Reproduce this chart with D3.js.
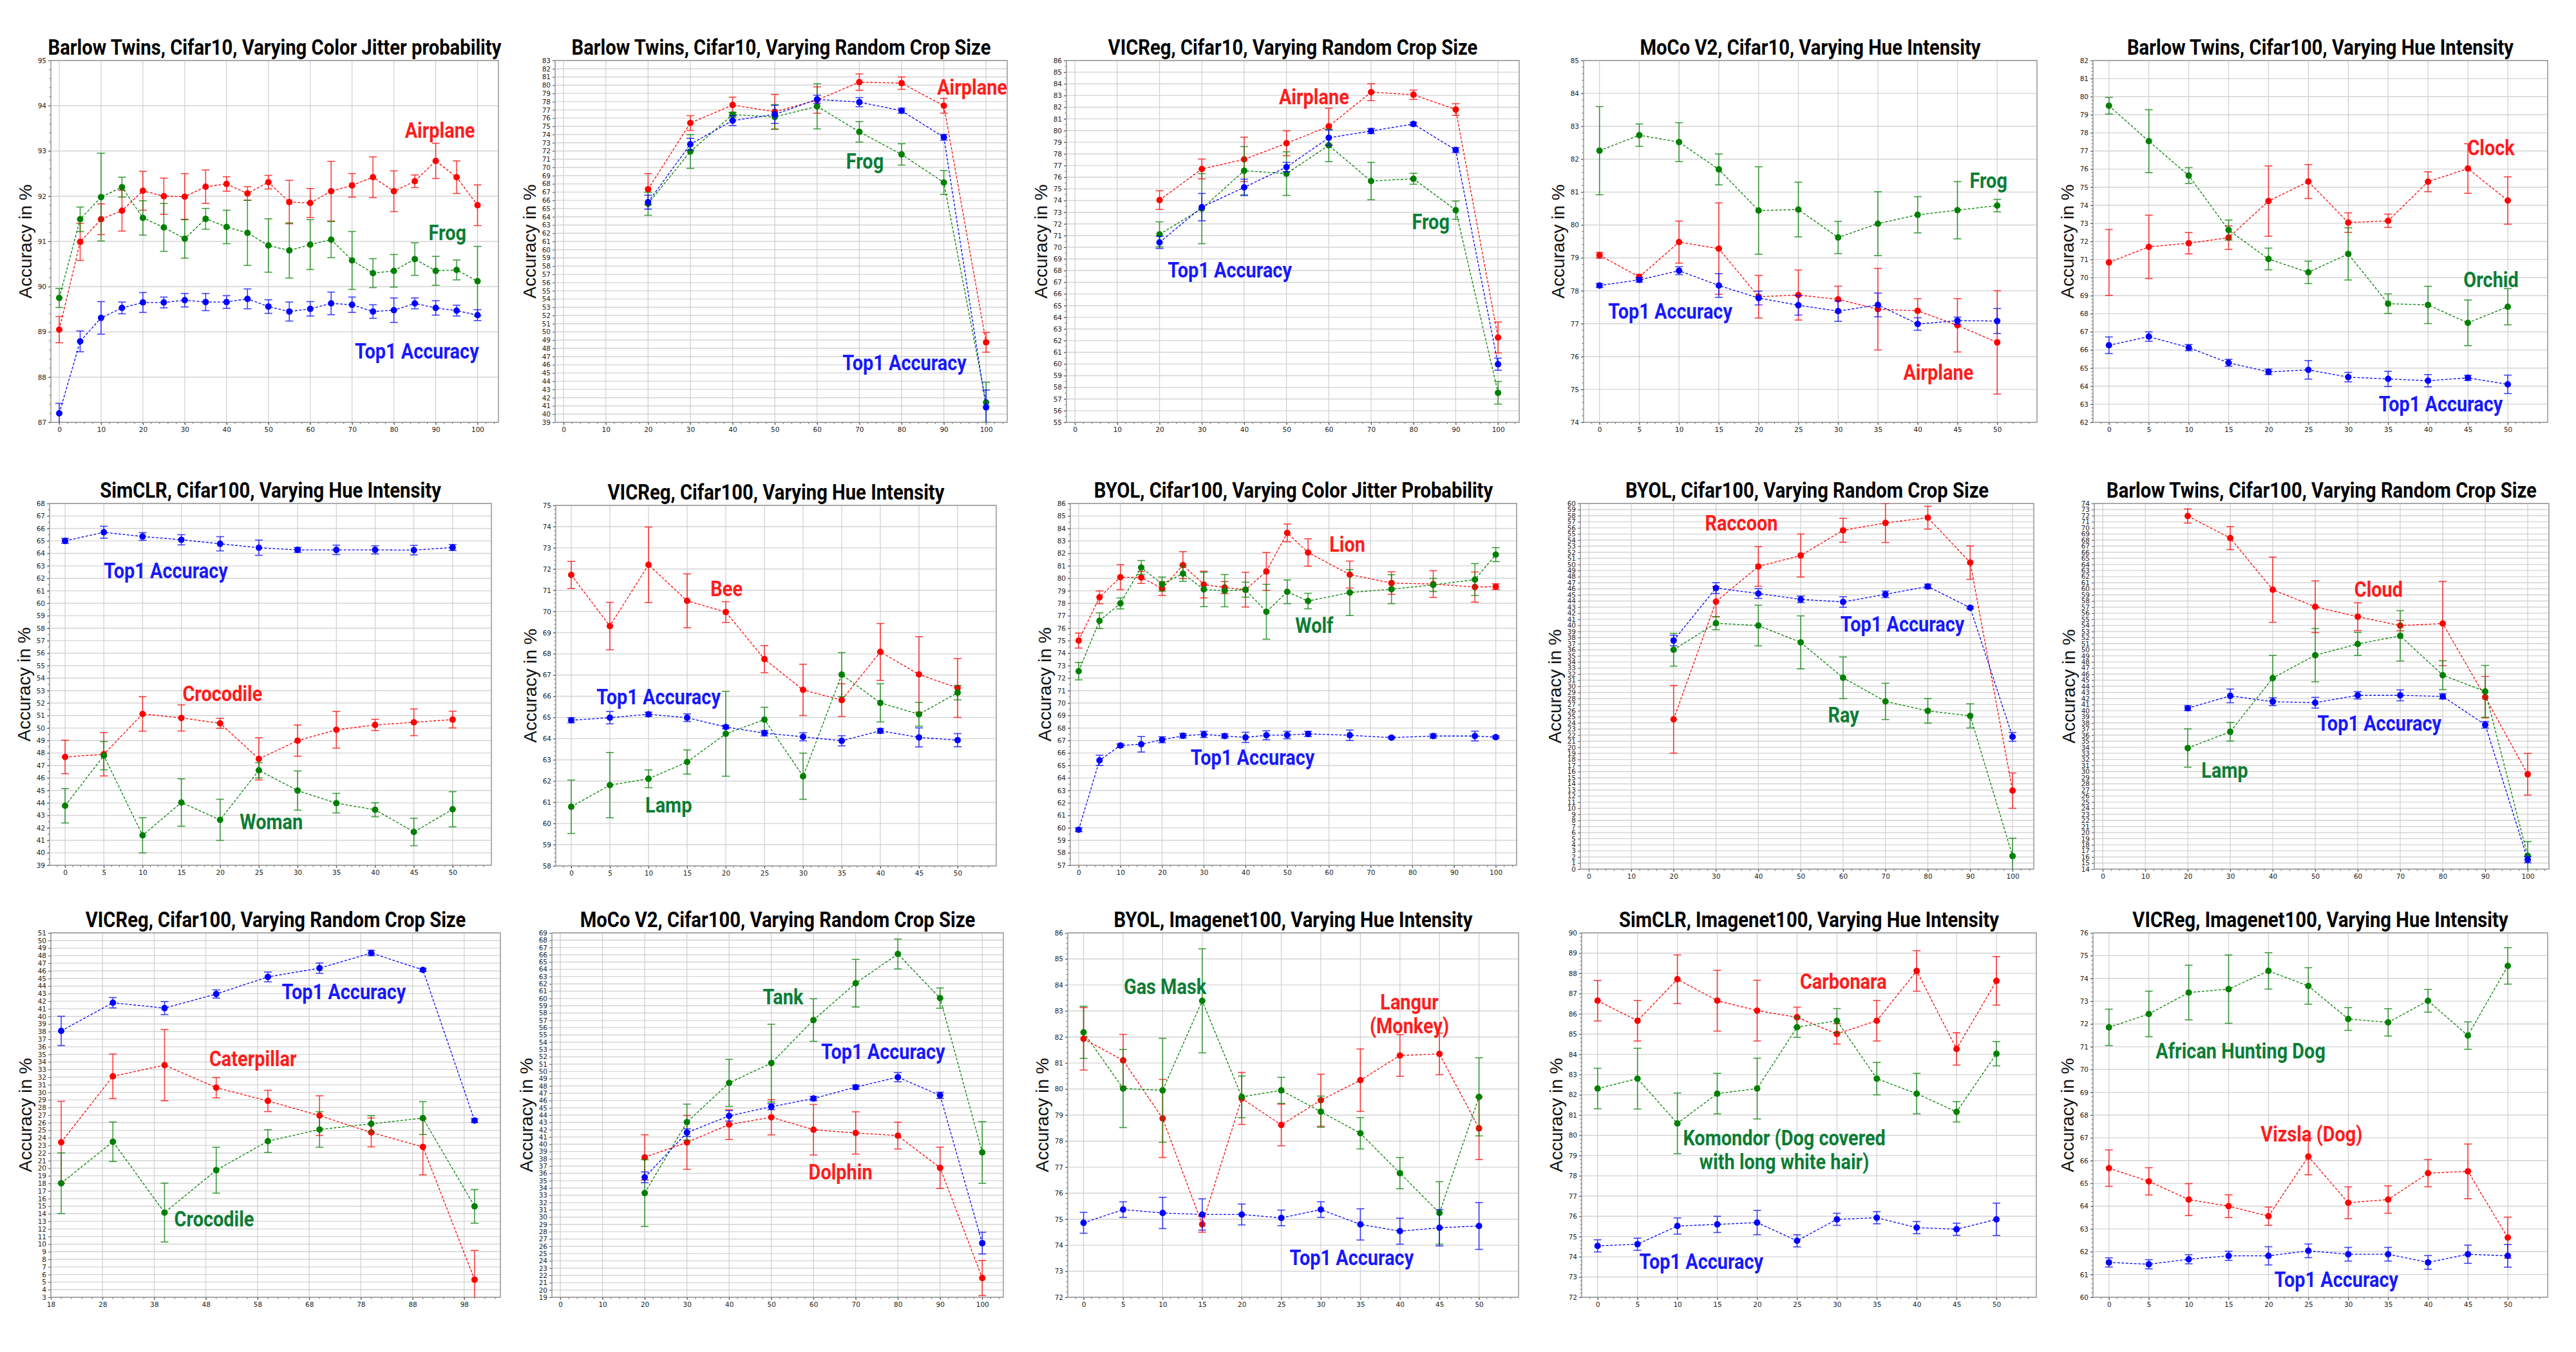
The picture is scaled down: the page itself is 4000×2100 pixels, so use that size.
<!DOCTYPE html>
<html>
<head>
<meta charset="utf-8">
<script src="https://cdn.jsdelivr.net/npm/d3@7"></script>
<style>
  body { margin: 0; background: #fff; }
</style>
</head>
<body>
<script>
// ---- titles and tick labels ----
var titles = [
  'Barlow Twins, Cifar10, Varying Color Jitter probability',
  'Barlow Twins, Cifar10, Varying Random Crop Size',
  'VICReg, Cifar10, Varying Random Crop Size',
  'MoCo V2, Cifar10, Varying Hue Intensity',
  'Barlow Twins, Cifar100, Varying Hue Intensity',
  'SimCLR, Cifar100, Varying Hue Intensity',
  'VICReg, Cifar100, Varying Hue Intensity',
  'BYOL, Cifar100, Varying Color Jitter Probability',
  'BYOL, Cifar100, Varying Random Crop Size',
  'Barlow Twins, Cifar100, Varying Random Crop Size',
  'VICReg, Cifar100, Varying Random Crop Size',
  'MoCo V2, Cifar100, Varying Random Crop Size',
  'BYOL, Imagenet100, Varying Hue Intensity',
  'SimCLR, Imagenet100, Varying Hue Intensity',
  'VICReg, Imagenet100, Varying Hue Intensity'
];

var ticks100 = [0, 10, 20, 30, 40, 50, 60, 70, 80, 90, 100];
var ticks50 = [0, 5, 10, 15, 20, 25, 30, 35, 40, 45, 50];
var ticksOdd = [18, 28, 38, 48, 58, 68, 78, 88, 98];

// ---- x values ----
var jitterX = [0, 5, 10, 15, 20, 25, 30, 35, 40, 45, 50, 55, 60, 65, 70, 75, 80, 85, 90, 95, 100];
var cropX = [20, 30, 40, 50, 60, 70, 80, 90, 100];
var hueX = [0, 5, 10, 15, 20, 25, 30, 35, 40, 45, 50];
var byolJitterX = [0, 5, 10, 15, 20, 25, 30, 35, 40, 45, 50, 55, 65, 75, 85, 95, 100];

// ---- series: [mean, std] ----
var p1Top1 = [[87.20,.22],[88.79,.23],[89.31,.36],[89.53,.13],[89.65,.22],[89.65,.12],[89.70,.15],[89.66,.19],[89.66,.14],[89.73,.22],[89.56,.15],[89.45,.21],[89.51,.16],[89.63,.25],[89.60,.17],[89.45,.15],[89.48,.27],[89.63,.12],[89.53,.16],[89.47,.12],[89.37,.12]];
var p1Airplane = [[89.05,.29],[90.99,.41],[91.49,.34],[91.68,.45],[92.12,.43],[92.00,.40],[91.99,.51],[92.21,.37],[92.27,.16],[92.06,.15],[92.31,.15],[91.87,.48],[91.85,.32],[92.11,.66],[92.24,.26],[92.42,.45],[92.11,.45],[92.33,.14],[92.78,.39],[92.42,.36],[91.80,.45]];
var p1Frog = [[89.75,.21],[91.49,.27],[91.98,.97],[92.20,.22],[91.52,.38],[91.31,.53],[91.06,.43],[91.50,.23],[91.32,.37],[91.19,.72],[90.91,.59],[90.80,.61],[90.93,.55],[91.04,.40],[90.58,.64],[90.30,.32],[90.35,.36],[90.61,.36],[90.35,.32],[90.37,.22],[90.12,.77]];

var p2Top1 = [[65.77,.85],[72.82,.72],[75.69,.6],[76.45,1.1],[78.28,.5],[77.94,.55],[76.90,.3],[73.67,.35],[40.83,2.1]];
var p2Airplane = [[67.35,1.9],[75.40,.9],[77.59,.95],[76.77,2.1],[78.19,1.6],[80.37,1.0],[80.25,.75],[77.50,.9],[48.73,1.2]];
var p2Frog = [[65.58,1.4],[71.93,2.05],[76.42,.3],[76.14,1.5],[77.43,2.75],[74.33,1.25],[71.58,1.3],[68.17,1.45],[41.43,2.45]];

var p3Top1 = [[70.42,.52],[73.44,1.17],[75.13,.7],[76.87,.4],[79.38,.67],[79.96,.22],[80.56,.15],[78.33,.2],[59.98,.52]];
var p3Airplane = [[74.04,.8],[76.71,.85],[77.53,1.9],[78.91,1.07],[80.36,1.55],[83.29,.73],[83.07,.4],[81.80,.5],[62.27,1.33]];
var p3Frog = [[71.11,1.07],[73.31,3.0],[76.56,2.07],[76.31,1.87],[78.73,1.39],[75.67,1.6],[75.87,.47],[73.18,.78],[57.53,.97]];

var p4Top1 = [[78.16,.06],[78.33,.07],[78.61,.12],[78.16,.36],[77.78,.21],[77.56,.3],[77.38,.31],[77.57,.36],[76.99,.19],[77.09,.11],[77.08,.38]];
var p4Airplane = [[79.08,.09],[78.42,.08],[79.48,.64],[79.28,1.39],[77.82,.65],[77.87,.76],[77.74,.4],[77.44,1.24],[77.39,.37],[76.95,.81],[76.43,1.57]];
var p4Frog = [[82.26,1.34],[82.73,.34],[82.52,.59],[81.69,.47],[80.44,1.33],[80.47,.83],[79.62,.49],[80.04,.97],[80.31,.55],[80.45,.87],[80.59,.19]];

var p5Top1 = [[66.26,.46],[66.74,.26],[66.13,.17],[65.29,.19],[64.79,.15],[64.90,.51],[64.50,.26],[64.40,.42],[64.30,.34],[64.46,.14],[64.10,.51]];
var p5Clock = [[70.84,1.82],[71.70,1.75],[71.90,.59],[72.21,.65],[74.23,1.94],[75.31,.94],[73.04,.54],[73.14,.37],[75.30,.55],[76.03,1.37],[74.26,1.31]];
var p5Orchid = [[79.50,.46],[77.54,1.74],[75.64,.44],[72.63,.55],[71.03,.6],[70.29,.62],[71.31,1.44],[68.56,.54],[68.49,1.03],[67.50,1.26],[68.39,1.0]];

var p6Top1 = [[65.00,.2],[65.69,.48],[65.35,.31],[65.09,.41],[64.77,.57],[64.45,.61],[64.28,.19],[64.28,.38],[64.28,.33],[64.26,.38],[64.47,.24]];
var p6Crocodile = [[47.68,1.34],[47.90,1.74],[51.13,1.38],[50.81,1.05],[50.38,.4],[47.53,1.69],[48.99,1.25],[49.86,1.47],[50.25,.45],[50.46,1.07],[50.68,.67]];
var p6Woman = [[43.77,1.38],[47.79,1.13],[41.40,1.41],[44.03,1.9],[42.64,1.65],[46.61,.61],[44.99,1.57],[43.98,.78],[43.45,.56],[41.67,1.1],[43.49,1.41]];

var p7Top1 = [[64.87,.12],[64.99,.29],[65.15,.1],[64.99,.18],[64.55,.08],[64.26,.13],[64.09,.19],[63.90,.24],[64.37,.11],[64.06,.45],[63.93,.31]];
var p7Bee = [[71.72,.64],[69.31,1.12],[72.20,1.78],[70.50,1.27],[69.97,.49],[67.75,.64],[66.30,1.21],[65.82,.77],[68.09,1.34],[67.03,1.78],[66.39,1.39]];
var p7Lamp = [[60.79,1.26],[61.81,1.54],[62.11,.42],[62.90,.57],[64.23,2.0],[64.90,.58],[62.23,1.09],[67.02,1.04],[65.69,.9],[65.15,.56],[66.17,.34]];

var p8Top1 = [[59.85,.15],[65.41,.41],[66.60,.13],[66.70,.62],[67.06,.24],[67.38,.18],[67.49,.25],[67.36,.17],[67.25,.41],[67.42,.36],[67.44,.3],[67.53,.21],[67.42,.42],[67.23,.08],[67.36,.17],[67.36,.39],[67.27,.1]];
var p8Lion = [[75.01,.6],[78.48,.51],[80.09,1.0],[80.07,.48],[79.18,.55],[81.06,1.08],[79.50,1.07],[79.26,.48],[79.09,1.39],[80.55,1.52],[83.64,.71],[82.07,1.1],[80.30,1.08],[79.62,.9],[79.54,1.07],[79.30,1.21],[79.33,.23]];
var p8Wolf = [[72.56,.7],[76.60,.63],[77.99,.44],[80.87,.56],[79.54,.56],[80.38,.62],[79.11,1.38],[79.01,1.29],[79.09,.6],[77.32,2.2],[78.92,.95],[78.18,.62],[78.86,1.84],[79.13,1.16],[79.47,.52],[79.90,1.28],[81.90,.56]];

var p9Top1 = [[37.51,.86],[46.12,.88],[45.22,.8],[44.27,.54],[43.84,.86],[45.09,.54],[46.38,.37],[42.89,.2],[21.70,.73]];
var p9Raccoon = [[24.59,5.55],[43.89,2.5],[49.66,3.25],[51.46,3.53],[55.60,1.96],[56.80,3.2],[57.67,1.87],[50.30,2.74],[12.88,2.9]];
var p9Ray = [[36.00,2.69],[40.35,1.07],[39.97,3.33],[37.21,4.35],[31.40,3.42],[27.52,2.97],[25.97,2.02],[25.15,1.98],[2.15,2.93]];

var p10Top1 = [[40.41,.39],[42.43,1.12],[41.48,.65],[41.31,.88],[42.52,.6],[42.52,.9],[42.34,.43],[37.69,.54],[15.55,.5]];
var p10Cloud = [[71.94,1.16],[68.32,1.89],[59.85,5.35],[57.05,4.24],[55.42,2.28],[53.96,.84],[54.30,6.92],[42.22,3.4],[29.57,3.42]];
var p10Lamp = [[33.87,3.14],[36.54,1.53],[45.35,3.72],[49.10,4.37],[50.95,1.89],[52.28,4.13],[45.83,2.37],[43.16,4.26],[16.19,2.32]];

var p11Top1 = [[38.09,1.93],[41.80,.68],[41.09,.86],[42.95,.54],[45.20,.64],[46.35,.68],[48.35,.36],[46.13,.2],[26.28,.25]];
var p11Caterpillar = [[23.42,5.4],[32.11,2.93],[33.58,4.69],[30.61,1.34],[28.86,1.4],[26.93,2.61],[24.71,1.9],[22.81,3.68],[5.32,3.85]];
var p11Crocodile = [[18.02,4.0],[23.49,2.61],[14.16,3.88],[19.74,3.02],[23.57,1.5],[25.10,2.34],[25.85,1.07],[26.60,2.16],[14.98,2.22]];

var p12Top1 = [[35.46,.74],[41.59,.52],[43.89,.71],[45.15,.41],[46.27,.3],[47.83,.28],[49.20,.63],[46.71,.43],[26.43,1.49]];
var p12Tank = [[33.30,4.57],[43.03,2.47],[48.42,3.23],[51.13,5.33],[57.04,2.92],[62.09,3.27],[66.10,2.05],[60.05,1.39],[38.87,4.23]];
var p12Dolphin = [[38.20,3.1],[40.25,3.7],[42.70,2.04],[43.70,2.42],[41.99,3.47],[41.55,2.9],[41.18,1.84],[36.76,2.83],[21.64,2.41]];

var p13Top1 = [[74.86,.4],[75.37,.3],[75.24,.6],[75.18,.6],[75.18,.4],[75.05,.3],[75.37,.3],[74.80,.6],[74.54,.5],[74.67,.7],[74.74,.9]];
var p13Langur = [[81.93,1.2],[81.10,1.0],[78.87,1.5],[74.80,.3],[79.64,1.0],[78.62,.8],[79.57,1.0],[80.34,1.2],[81.29,.8],[81.35,.8],[78.49,1.2]];
var p13GasMask = [[82.18,1.0],[80.02,1.5],[79.95,2.0],[83.39,2.0],[79.70,.8],[79.95,.5],[79.13,.6],[78.30,.6],[76.77,.6],[75.24,1.2],[79.70,1.5]];

var p14Top1 = [[74.54,.3],[74.62,.3],[75.52,.4],[75.60,.4],[75.69,.6],[74.79,.3],[75.85,.3],[75.93,.3],[75.44,.3],[75.36,.3],[75.85,.8]];
var p14Carbonara = [[86.65,1.0],[85.66,1.0],[87.71,1.2],[86.65,1.5],[86.16,1.5],[85.83,.5],[85.01,.5],[85.66,1.0],[88.12,1.0],[84.27,.8],[87.63,1.2]];
var p14Komondor = [[82.31,1.0],[82.80,1.5],[80.59,1.5],[82.06,1.0],[82.31,1.5],[85.34,.5],[85.66,.6],[82.80,.8],[82.06,1.0],[81.16,.5],[84.03,.6]];

var p15Top1 = [[61.53,.2],[61.45,.2],[61.67,.2],[61.82,.2],[61.82,.4],[62.04,.3],[61.89,.3],[61.89,.3],[61.53,.3],[61.89,.4],[61.82,.5]];
var p15Vizsla = [[65.67,.8],[65.09,.6],[64.29,.7],[64.00,.5],[63.56,.4],[66.18,.8],[64.15,.7],[64.29,.6],[65.45,.6],[65.53,1.2],[62.62,.9]];
var p15HuntingDog = [[71.85,.8],[72.44,1.0],[73.38,1.2],[73.53,1.5],[74.33,.8],[73.67,.8],[72.22,.5],[72.07,.6],[73.02,.5],[71.49,.6],[74.55,.8]];

// ---- y ranges of each panel ----
var yRanges = [[87,95],[39,83],[55,86],[74,85],[62,82],[39,68],[58,75],[57,86],[0,60],[14,74],[3,51],[19,69],[72,86],[72,90],[60,76]];

// ---- layout ----
var lineColor = {red: '#ff0000', green: '#008000', blue: '#0000ff'};
var textColor = {red: '#ff1c1c', green: '#0c7d34', blue: '#1818ff'};

var panels = [
  {box: [79, 94, 695, 562], xd: [-2, 105], xt: ticks100, xs: jitterX,
   series: [[p1Airplane, 'red'], [p1Frog, 'green'], [p1Top1, 'blue']],
   notes: [[['Airplane'], 'red', 91, 93.47], [['Frog'], 'green', 92.8, 91.2], [['Top1 Accuracy'], 'blue', 85.5, 88.58]]},
  {box: [862, 94, 702, 562], xd: [-2, 105], xt: ticks100, xs: cropX,
   series: [[p2Airplane, 'red'], [p2Frog, 'green'], [p2Top1, 'blue']],
   notes: [[['Airplane'], 'red', 96.7, 79.8], [['Frog'], 'green', 71.3, 70.8], [['Top1 Accuracy'], 'blue', 80.7, 46.3]]},
  {box: [1656, 94, 703, 562], xd: [-2, 105], xt: ticks100, xs: cropX,
   series: [[p3Airplane, 'red'], [p3Frog, 'green'], [p3Top1, 'blue']],
   notes: [[['Airplane'], 'red', 56.5, 82.9], [['Frog'], 'green', 84.1, 72.2], [['Top1 Accuracy'], 'blue', 36.6, 68.1]]},
  {box: [2459, 94, 704, 562], xd: [-2, 55], xt: ticks50, xs: hueX,
   series: [[p4Airplane, 'red'], [p4Frog, 'green'], [p4Top1, 'blue']],
   notes: [[['Frog'], 'green', 48.9, 81.37], [['Top1 Accuracy'], 'blue', 8.9, 77.39], [['Airplane'], 'red', 42.6, 75.54]]},
  {box: [3250, 94, 706, 562], xd: [-2, 55], xt: ticks50, xs: hueX,
   series: [[p5Clock, 'red'], [p5Orchid, 'green'], [p5Top1, 'blue']],
   notes: [[['Clock'], 'red', 47.9, 77.2], [['Orchid'], 'green', 47.9, 69.9], [['Top1 Accuracy'], 'blue', 41.6, 63.04]]},

  {box: [77, 782, 686, 562], xd: [-2, 55], xt: ticks50, xs: hueX,
   series: [[p6Crocodile, 'red'], [p6Woman, 'green'], [p6Top1, 'blue']],
   notes: [[['Top1 Accuracy'], 'blue', 13.0, 62.65], [['Crocodile'], 'red', 20.3, 52.8], [['Woman'], 'green', 26.6, 42.5]]},
  {box: [863, 785, 684, 560], xd: [-2, 55], xt: ticks50, xs: hueX,
   series: [[p7Bee, 'red'], [p7Lamp, 'green'], [p7Top1, 'blue']],
   notes: [[['Bee'], 'red', 20.1, 71.1], [['Top1 Accuracy'], 'blue', 11.3, 66.0], [['Lamp'], 'green', 12.6, 60.9]]},
  {box: [1662, 782, 693, 562], xd: [-2, 105], xt: ticks100, xs: byolJitterX,
   series: [[p8Lion, 'red'], [p8Wolf, 'green'], [p8Top1, 'blue']],
   notes: [[['Lion'], 'red', 64.4, 82.75], [['Wolf'], 'green', 56.5, 76.25], [['Top1 Accuracy'], 'blue', 41.7, 65.7]]},
  {box: [2454, 782, 704, 568], xd: [-2, 105], xt: ticks100, xs: cropX,
   series: [[p9Raccoon, 'red'], [p9Ray, 'green'], [p9Top1, 'blue']],
   notes: [[['Raccoon'], 'red', 36.0, 56.85], [['Top1 Accuracy'], 'blue', 74.0, 40.3], [['Ray'], 'green', 60.1, 25.4]]},
  {box: [3252, 782, 706, 568], xd: [-2, 105], xt: ticks100, xs: cropX,
   series: [[p10Cloud, 'red'], [p10Lamp, 'green'], [p10Top1, 'blue']],
   notes: [[['Cloud'], 'red', 64.9, 59.98], [['Top1 Accuracy'], 'blue', 65.1, 38.0], [['Lamp'], 'green', 28.7, 30.3]]},

  {box: [79, 1449, 698, 566], xd: [18, 105], xt: ticksOdd, xs: cropX,
   series: [[p11Caterpillar, 'red'], [p11Crocodile, 'green'], [p11Top1, 'blue']],
   notes: [[['Top1 Accuracy'], 'blue', 74.7, 43.27], [['Caterpillar'], 'red', 57.1, 34.47], [['Crocodile'], 'green', 49.6, 13.4]]},
  {box: [857, 1449, 701, 566], xd: [-2, 105], xt: ticks100, xs: cropX,
   series: [[p12Dolphin, 'red'], [p12Tank, 'green'], [p12Top1, 'blue']],
   notes: [[['Tank'], 'green', 52.8, 60.27], [['Top1 Accuracy'], 'blue', 76.5, 52.73], [['Dolphin'], 'red', 66.4, 36.27]]},
  {box: [1658, 1449, 700, 566], xd: [-2, 55], xt: ticks50, xs: hueX,
   series: [[p13Langur, 'red'], [p13GasMask, 'green'], [p13Top1, 'blue']],
   notes: [[['Gas Mask'], 'green', 10.3, 83.96], [['Langur', '(Monkey)'], 'red', 41.2, 82.9], [['Top1 Accuracy'], 'blue', 33.9, 73.53]]},
  {box: [2456, 1449, 706, 566], xd: [-2, 55], xt: ticks50, xs: hueX,
   series: [[p14Carbonara, 'red'], [p14Komondor, 'green'], [p14Top1, 'blue']],
   notes: [[['Carbonara'], 'red', 30.8, 87.63], [['Komondor (Dog covered', 'with long white hair)'], 'green', 23.4, 79.3], [['Top1 Accuracy'], 'blue', 13.0, 73.8]]},
  {box: [3250, 1449, 706, 566], xd: [-2, 55], xt: ticks50, xs: hueX,
   series: [[p15Vizsla, 'red'], [p15HuntingDog, 'green'], [p15Top1, 'blue']],
   notes: [[['African Hunting Dog'], 'green', 16.5, 70.84], [['Vizsla (Dog)'], 'red', 25.4, 67.2], [['Top1 Accuracy'], 'blue', 28.5, 60.8]]}
];

var svg = d3.select('body')
  .append('svg')
  .attr('width', 4000)
  .attr('height', 2100);

svg.append('rect').attr('width', 4000).attr('height', 2100).attr('fill', '#fff');

var boldFont = 'Roboto, "Noto Sans", sans-serif';

// condensed bold text, centred on (cx, cy); lines is a list of strings
function condensed(parent, lines, cx, cy, size, squeeze, color) {
  var g = parent.append('g')
    .attr('transform', 'translate(' + cx + ',' + cy + ') scale(' + squeeze + ',1)');
  var lh = size * 1.1;
  var t = g.append('text')
    .attr('text-anchor', 'middle')
    .attr('font-family', boldFont)
    .attr('font-weight', 700)
    .attr('font-size', size)
    .attr('fill', color);
  lines.forEach(function(s, k) {
    t.append('tspan')
      .attr('x', 0)
      .attr('y', (k - (lines.length - 1) / 2) * lh + size * 0.36)
      .text(s);
  });
  return g;
}

panels.forEach(function(p, i) {
  var left = p.box[0], top = p.box[1], w = p.box[2], h = p.box[3];
  var yd = yRanges[i];
  var x = d3.scaleLinear().domain(p.xd).range([0, w]);
  var y = d3.scaleLinear().domain(yd).range([h, 0]);

  var g = svg.append('g').attr('transform', 'translate(' + left + ',' + top + ')');

  g.append('clipPath').attr('id', 'clip' + i)
    .append('rect').attr('x', 0).attr('y', 0).attr('width', w).attr('height', h);
  g.append('clipPath').attr('id', 'lab' + i)
    .append('rect').attr('x', -60).attr('y', -4).attr('width', 60).attr('height', h + 30);

  var yt = d3.range(yd[0], yd[1] + 1e-6, 1);

  // grid
  g.append('g').selectAll('line').data(yt).enter().append('line')
    .attr('x1', 0).attr('x2', w)
    .attr('y1', function(d) { return y(d); })
    .attr('y2', function(d) { return y(d); })
    .attr('stroke', '#d4d4d4').attr('stroke-width', 1.4);
  g.append('g').selectAll('line').data(p.xt).enter().append('line')
    .attr('y1', 0).attr('y2', h)
    .attr('x1', function(d) { return x(d); })
    .attr('x2', function(d) { return x(d); })
    .attr('stroke', '#cfcfcf').attr('stroke-width', 1.2);

  // minor ticks
  var xMinorStep = (p.xt[1] - p.xt[0]) / 5;
  var xMinor = d3.range(p.xt[0] - 5 * xMinorStep, p.xd[1], xMinorStep)
    .filter(function(d) { return d > p.xd[0] && d < p.xd[1]; });
  g.append('g').selectAll('line').data(xMinor).enter().append('line')
    .attr('x1', function(d) { return x(d); })
    .attr('x2', function(d) { return x(d); })
    .attr('y1', h).attr('y2', h + 2.5)
    .attr('stroke', '#555').attr('stroke-width', 1);
  var span = yd[1] - yd[0];
  var yMinorStep = span <= 20 ? 0.2 : (span <= 35 ? 0.5 : 0);
  if (yMinorStep) {
    var yMinor = d3.range(yd[0], yd[1], yMinorStep);
    g.append('g').selectAll('line').data(yMinor).enter().append('line')
      .attr('y1', function(d) { return y(d); })
      .attr('y2', function(d) { return y(d); })
      .attr('x1', 0).attr('x2', -2.5)
      .attr('stroke', '#555').attr('stroke-width', 1);
  }

  // axes
  var yAxis = g.append('g')
    .attr('clip-path', 'url(#lab' + i + ')')
    .call(d3.axisLeft(y).tickValues(yt).tickSize(4).tickPadding(3).tickFormat(d3.format('d')));
  var xAxis = g.append('g').attr('transform', 'translate(0,' + h + ')')
    .call(d3.axisBottom(x).tickValues(p.xt).tickSize(4).tickPadding(4).tickFormat(d3.format('d')));
  [yAxis, xAxis].forEach(function(a) {
    a.select('.domain').remove();
    a.selectAll('line').attr('stroke', '#444');
    a.selectAll('text')
      .attr('font-family', '"DejaVu Sans", sans-serif')
      .attr('font-size', 10.5)
      .attr('fill', '#222');
  });

  // frame
  g.append('rect').attr('width', w).attr('height', h)
    .attr('fill', 'none').attr('stroke', '#9c9c9c').attr('stroke-width', 1.6);

  // series
  var plot = g.append('g').attr('clip-path', 'url(#clip' + i + ')');
  p.series.forEach(function(s) {
    var vals = s[0], col = lineColor[s[1]];
    var pts = vals.map(function(v, k) { return {x: p.xs[k], m: v[0], e: v[1]}; });
    var sg = plot.append('g');

    var eb = sg.append('g').attr('stroke', col).attr('stroke-width', 1.6).attr('opacity', 0.75);
    pts.forEach(function(d) {
      var cx = x(d.x), y1 = y(d.m + d.e), y2 = y(d.m - d.e);
      eb.append('line').attr('x1', cx).attr('x2', cx).attr('y1', y1).attr('y2', y2);
      eb.append('line').attr('x1', cx - 6).attr('x2', cx + 6).attr('y1', y1).attr('y2', y1);
      eb.append('line').attr('x1', cx - 6).attr('x2', cx + 6).attr('y1', y2).attr('y2', y2);
    });

    sg.append('path')
      .attr('d', d3.line().x(function(d) { return x(d.x); }).y(function(d) { return y(d.m); })(pts))
      .attr('fill', 'none')
      .attr('stroke', col)
      .attr('stroke-width', 1.3)
      .attr('stroke-dasharray', '4,2.5');

    sg.selectAll('circle').data(pts).enter().append('circle')
      .attr('cx', function(d) { return x(d.x); })
      .attr('cy', function(d) { return y(d.m); })
      .attr('r', 5)
      .attr('fill', col);
  });

  // class labels
  p.notes.forEach(function(n) {
    condensed(g, n[0], x(n[2]), y(n[3]), 34, 0.85, textColor[n[1]]);
  });

  // y label
  g.append('text')
    .attr('transform', 'translate(-30,' + (h / 2) + ') rotate(-90)')
    .attr('text-anchor', 'middle')
    .attr('font-family', '"Liberation Sans", Arial, sans-serif')
    .attr('font-size', 28)
    .attr('fill', '#111')
    .text('Accuracy in %');

  // title
  condensed(g, [titles[i]], w / 2, -21, 34, 0.86, '#000');
});
</script>
</body>
</html>
